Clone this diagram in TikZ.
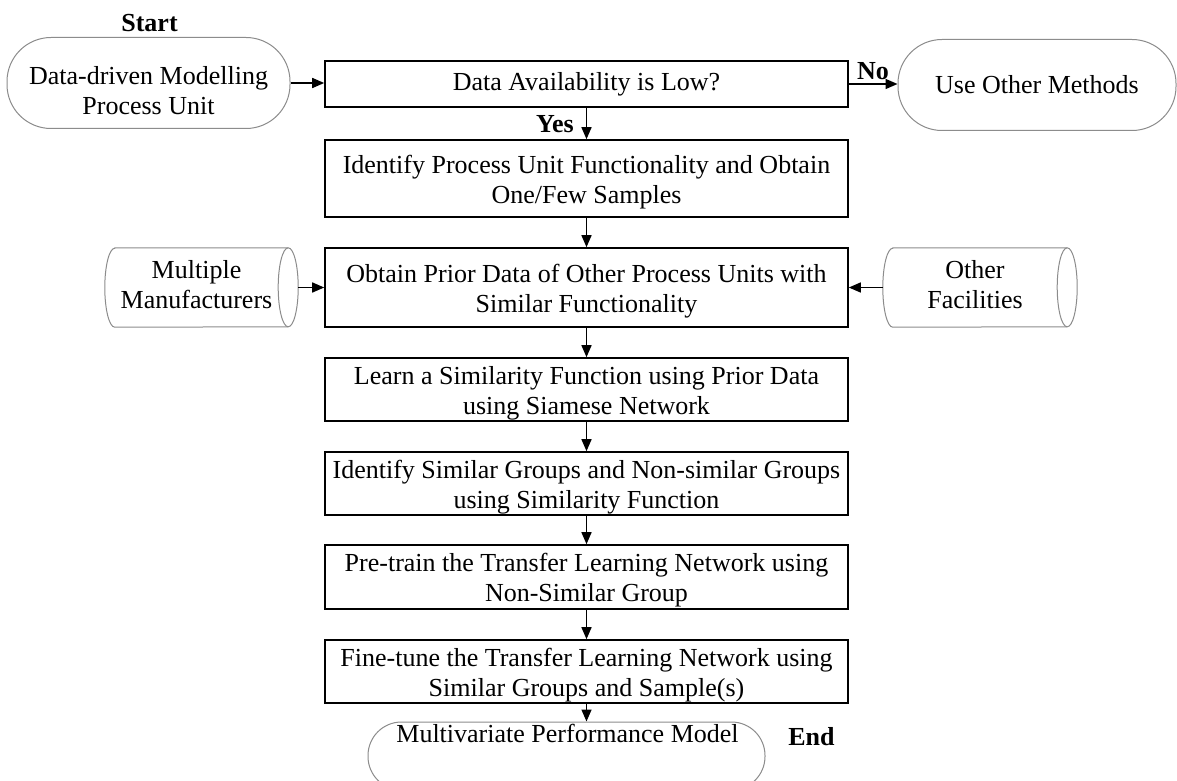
\documentclass[tikz,border=0pt]{standalone}
\usepackage{fontspec}
\setmainfont{Liberation Serif}
\usetikzlibrary{arrows.meta}
\newcommand\boxstrutx{\rule{0pt}{25pt}}
\newcommand\termstrutx{\rule{0pt}{33pt}}
\begin{document}
\begin{tikzpicture}[x=1pt,y=1pt,
  font=\fontsize{26}{30}\selectfont,
  procbox/.style={draw=black, line width=1.6pt, minimum width=523pt, align=center, inner sep=0pt},
  term/.style={draw=black!45, line width=1pt, rounded corners=44pt, align=center, inner sep=0pt},
  lbl/.style={font=\fontsize{26}{30}\selectfont\bfseries, anchor=base, inner sep=0pt},
  cylbody/.style={minimum height=79pt, inner sep=0pt, align=center, execute at end node={\rule[-6pt]{0pt}{0pt}}},
  cyl/.style={draw=black!45, line width=1pt},
  arr/.style={line width=1.5pt, -{Triangle[length=12pt,width=10pt]}},
]
\useasboundingbox[fill=white] (0,0) rectangle (1177,-781);

% terminals
\node[term, minimum width=283pt, minimum height=91pt] (start) at (148.5,-83) {\termstrutx Data-driven Modelling\\Process Unit};
\node[term, minimum width=278pt, minimum height=91pt] (other) at (1037,-85) {Use Other Methods};
\node[term, rounded corners=33.5pt, minimum width=397pt, minimum height=68pt] (endt) at (566.5,-756) {};
\node[anchor=base, inner sep=0pt] (endtxt) at (567.5,-742) {Multivariate Performance Model};

% process boxes
\node[procbox, minimum height=46pt] (b1) at (586.5,-84) {Data Availability is Low?};
\node[procbox, minimum height=77pt] (b2) at (586.5,-178.5) {\boxstrutx Identify Process Unit Functionality and Obtain\\One/Few Samples};
\node[procbox, minimum height=79pt] (b3) at (586.5,-287.5) {\boxstrutx Obtain Prior Data of Other Process Units with\\Similar Functionality};
\node[procbox, minimum height=63pt] (b4) at (586.5,-389.5) {\boxstrutx Learn a Similarity Function using Prior Data\\using Siamese Network};
\node[procbox, minimum height=63pt] (b5) at (586.5,-483.5) {\boxstrutx Identify Similar Groups and Non-similar Groups\\using Similarity Function};
\node[procbox, minimum height=64pt] (b6) at (586.5,-577) {\boxstrutx Pre-train the Transfer Learning Network using\\Non-Similar Group};
\node[procbox, minimum height=63pt] (b7) at (586.5,-671.5) {\boxstrutx Fine-tune the Transfer Learning Network using\\Similar Groups and Sample(s)};

% cylinders
\node[cylbody, minimum width=183pt] (mm) at (196.5,-287.5) {Multiple\\Manufacturers};
\draw[cyl] ([xshift=10pt]mm.north west) -- (mm.north east)
  arc[start angle=90, end angle=-90, x radius=10pt, y radius=39.5pt]
  -- ([xshift=10pt]mm.south west)
  arc[start angle=270, end angle=90, x radius=10pt, y radius=39.5pt] -- cycle;
\draw[cyl] (mm.north east) arc[start angle=90, end angle=270, x radius=10pt, y radius=39.5pt];

\node[cylbody, minimum width=184pt] (ofac) at (975,-287.5) {Other\\Facilities};
\draw[cyl] ([xshift=10pt]ofac.north west) -- (ofac.north east)
  arc[start angle=90, end angle=-90, x radius=10pt, y radius=39.5pt]
  -- ([xshift=10pt]ofac.south west)
  arc[start angle=270, end angle=90, x radius=10pt, y radius=39.5pt] -- cycle;
\draw[cyl] (ofac.north east) arc[start angle=90, end angle=270, x radius=10pt, y radius=39.5pt];

% labels
\node[lbl] (startlbl) at (149.5,-32) {Start};
\node[lbl] (yes) at (555,-132) {Yes};
\node[lbl] (no) at (873,-80) {No};
\node[lbl] (endlbl) at (811.5,-745) {End};

% connectors
\draw[arr] (start.east) -- (start.east -| b1.west);
\draw[arr] (b1.east) -- (b1.east -| other.west);
\draw[arr] (b1.south) -- (b2.north);
\draw[arr] (b2.south) -- (b3.north);
\draw[arr] ([xshift=10pt]mm.east) -- (b3.west);
\draw[arr] (ofac.west) -- (b3.east);
\draw[arr] (b3.south) -- (b4.north);
\draw[arr] (b4.south) -- (b5.north);
\draw[arr] (b5.south) -- (b6.north);
\draw[arr] (b6.south) -- (b7.north);
\draw[arr] (b7.south) -- (b7.south |- endt.north);
\end{tikzpicture}
\end{document}
